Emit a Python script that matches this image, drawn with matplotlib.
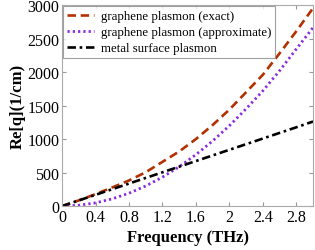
import matplotlib
matplotlib.use('Agg')
import matplotlib.pyplot as plt

plt.rcParams['font.family'] = ['Liberation Serif', 'DejaVu Serif']

# frequency (THz) and Re[q] (1/cm)
freq = [0.0, 0.2, 0.4, 0.6, 0.8, 1.0, 1.2, 1.4, 1.6, 1.8, 2.0, 2.2, 2.4, 2.6, 2.8, 3.0]
exact = [0, 85, 178, 278, 382, 505, 660, 815, 1000, 1210, 1440, 1700, 1960, 2280, 2610, 2955]
approx = [0, 12, 48, 108, 192, 300, 432, 588, 768, 972, 1200, 1452, 1720, 2020, 2345, 2665]
metal = [0, 84, 168, 252, 336, 420, 504, 588, 672, 756, 840, 924, 1008, 1092, 1176, 1262]

xticks = [0, 0.4, 0.8, 1.2, 1.6, 2.0, 2.4, 2.8]
xticklabels = ['0', '0.4', '0.8', '1.2', '1.6', '2', '2.4', '2.8']
yticks = [0, 500, 1000, 1500, 2000, 2500, 3000]

fig = plt.figure(figsize=(3.15, 2.51), dpi=100)
ax = fig.add_axes([0.197, 0.175, 0.797, 0.801])

ax.plot(freq, exact, color='#b33000', lw=1.9, ls=(0, (3.2, 1.8)), label='graphene plasmon (exact)')
ax.plot(freq, approx, color='#8a2be2', lw=2.0, ls=(0, (0.8, 1.1)), label='graphene plasmon (approximate)')
ax.plot(freq, metal, color='black', lw=1.9, ls=(0, (3.2, 1.4, 1, 1.4)), label='metal surface plasmon')

ax.set_xlim(0, 3)
ax.set_ylim(0, 3000)
ax.set_xticks(xticks)
ax.set_xticklabels(xticklabels)
ax.set_yticks(yticks)
ax.tick_params(direction='in', top=True, right=True, labelsize=11.5, length=3,
               color='#999999', pad=2)
for s in ax.spines.values():
    s.set_color('#aaaaaa')
    s.set_linewidth(0.8)

ax.set_xlabel('Frequency (THz)', fontsize=12, fontweight='bold', labelpad=3)
ax.set_ylabel('Re[q](1/cm)', fontsize=12, fontweight='bold', labelpad=1)

leg = ax.legend(loc='upper left', fontsize=9.3, fancybox=False, borderaxespad=0.1,
                handlelength=2.1, handletextpad=0.5, labelspacing=0.3, borderpad=0.3)
leg.get_frame().set_edgecolor('#888888')
leg.get_frame().set_linewidth(0.8)

fig.savefig('out.png', dpi=100)
